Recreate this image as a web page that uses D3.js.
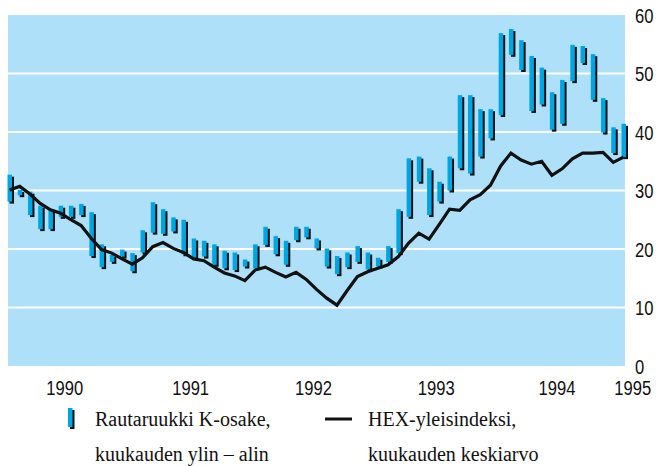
<!DOCTYPE html>
<html>
<head>
<meta charset="utf-8">
<title>Rautaruukki</title>
<script src="https://cdn.jsdelivr.net/npm/d3@7"></script>
<style>
    body { margin: 0; background: white; }
    .tick { font-family: "Liberation Sans", Arial, sans-serif; font-size: 21px; fill: #111; }
    .leg { font-family: "Liberation Serif", "Times New Roman", serif; font-size: 20px; fill: #111; }
</style>
</head>
<body>
<div id="chart"></div>
<script>
// Rautaruukki K-osake, kuukauden ylin / alin (61 kk)
var high = [32.7, 30.1, 29.8, 27.4, 26.7, 27.4, 27.4, 27.7, 26.3, 20.8,
            19.0, 19.9, 19.3, 23.2, 28.0, 26.8, 25.4, 25.0, 21.8, 21.4,
            20.8, 19.7, 19.4, 18.2, 20.8, 23.8, 22.2, 21.4, 23.8, 23.8,
            21.8, 20.1, 18.8, 19.4, 20.5, 19.4, 18.5, 20.5, 26.8, 35.5,
            35.8, 33.8, 31.5, 35.8, 46.3, 46.3, 43.9, 43.9, 56.9, 57.6,
            55.7, 53.0, 51.0, 46.8, 48.9, 54.9, 54.7, 53.3, 45.8, 40.8, 41.4];
var low = [28.1, 29.2, 25.8, 23.4, 23.4, 25.5, 25.5, 25.8, 18.8, 16.9,
           17.8, 18.7, 16.2, 19.4, 22.8, 22.6, 23.0, 19.1, 18.5, 18.7,
           17.3, 16.7, 16.4, 17.0, 16.7, 20.7, 19.1, 17.3, 21.5, 22.0,
           20.1, 17.0, 15.7, 16.9, 17.8, 16.5, 17.0, 17.8, 19.3, 25.5,
           31.5, 25.8, 28.1, 30.0, 33.8, 32.9, 35.8, 38.9, 42.9, 53.2,
           50.6, 43.6, 44.7, 40.4, 41.4, 48.7, 51.8, 45.5, 39.9, 36.4, 35.7];
// HEX-yleisindeksi, kuukauden keskiarvo
var hex = [30.1, 30.7, 29.4, 27.8, 26.7, 26.1, 25.0, 24.0, 21.8, 19.9,
           19.3, 18.3, 17.4, 18.5, 20.4, 21.1, 20.1, 19.4, 18.3, 18.0,
           16.9, 15.9, 15.4, 14.6, 16.4, 16.9, 16.0, 15.2, 16.0, 14.8,
           13.1, 11.6, 10.4, 12.9, 15.3, 16.1, 16.7, 17.3, 18.7, 21.0,
           22.7, 21.7, 24.2, 26.8, 26.6, 28.4, 29.3, 30.9, 34.2, 36.4,
           35.2, 34.5, 35.0, 32.6, 33.7, 35.4, 36.4, 36.4, 36.5, 34.8, 35.7];
var yearLabels = ["1990", "1991", "1992", "1993", "1994", "1995"];
var yearPos = [5.5, 17.8, 29.8, 41.8, 53.6, 61.0];   // kuukausi-indeksinä
var yTicks = [0, 10, 20, 30, 40, 50, 60];

var width = 658, height = 466;
var panel = {left: 8, right: 625, top: 15, bottom: 366};
var panelColor = "#aee0f9", barColor = "#00a5e4";
var squeeze = "scale(0.79,1)";  // kapea numerofontti

var svg = d3.select("#chart").append("svg")
    .attr("width", width).attr("height", height);

var x = d3.scaleLinear().domain([0, 60]).range([8, 622]);
var y = d3.scaleLinear().domain([0, 60]).range([panel.bottom, panel.top]);

svg.append("rect")
    .attr("x", panel.left).attr("y", panel.top)
    .attr("width", panel.right - panel.left).attr("height", panel.bottom - panel.top)
    .attr("fill", panelColor);

// gridlines
svg.append("g").selectAll("line")
    .data(yTicks.filter(function(d){ return d > 0 && d < 60; }))
    .enter().append("line")
    .attr("x1", panel.left).attr("x2", panel.right)
    .attr("y1", function(d){ return y(d); }).attr("y2", function(d){ return y(d); })
    .attr("stroke", "white").attr("stroke-width", 2);

// y labels on the right
var yAxis = d3.axisRight(y).tickValues(yTicks).tickSize(0).tickPadding(0);
svg.append("g")
    .attr("transform", "translate(635,0)")
    .call(yAxis)
    .call(function(g){ g.select(".domain").remove(); })
    .selectAll("text")
    .attr("class", "tick")
    .attr("dy", "0.34em")
    .attr("transform", squeeze);

// x labels
var xAxis = d3.axisBottom(x).tickValues(yearPos)
    .tickFormat(function(d, i){ return yearLabels[i]; })
    .tickSize(0).tickPadding(0);
svg.append("g")
    .attr("transform", "translate(0,380)")
    .call(xAxis)
    .call(function(g){ g.select(".domain").remove(); })
    .selectAll("text")
    .attr("class", "tick")
    .attr("dy", "0.72em")
    .attr("transform", squeeze);

// bars: black shadow + blue
var idx = d3.range(high.length);
var bars = svg.append("g");
bars.selectAll("rect.sh").data(idx).enter().append("rect")
    .attr("class", "sh")
    .attr("x", function(i){ return x(i) + 1.5; })
    .attr("y", function(i){ return y(high[i]) + 2; })
    .attr("width", 4.5)
    .attr("height", function(i){ return y(low[i]) - y(high[i]); })
    .attr("fill", "#111");
bars.selectAll("rect.bl").data(idx).enter().append("rect")
    .attr("class", "bl")
    .attr("x", function(i){ return x(i) - 0.5; })
    .attr("y", function(i){ return y(high[i]); })
    .attr("width", 4.5)
    .attr("height", function(i){ return y(low[i]) - y(high[i]); })
    .attr("fill", barColor);

// HEX line
var line = d3.line()
    .x(function(d, i){ return x(i) + 1.5; })
    .y(function(d){ return y(d); });
svg.append("path")
    .datum(hex)
    .attr("d", line)
    .attr("fill", "none")
    .attr("stroke", "#111")
    .attr("stroke-width", 3.2)
    .attr("stroke-linejoin", "miter");

// legend
var leg = svg.append("g");
leg.append("rect").attr("x", 70).attr("y", 410).attr("width", 4.5).attr("height", 19).attr("fill", "#111");
leg.append("rect").attr("x", 68).attr("y", 408).attr("width", 4.5).attr("height", 19).attr("fill", barColor);
leg.append("text").attr("class", "leg").attr("x", 95).attr("y", 426).text("Rautaruukki K-osake,");
leg.append("text").attr("class", "leg").attr("x", 95).attr("y", 461).text("kuukauden ylin – alin");
leg.append("line").attr("x1", 325).attr("x2", 352).attr("y1", 419).attr("y2", 419)
    .attr("stroke", "#111").attr("stroke-width", 3);
leg.append("text").attr("class", "leg").attr("x", 368).attr("y", 426).text("HEX-yleisindeksi,");
leg.append("text").attr("class", "leg").attr("x", 368).attr("y", 461).text("kuukauden keskiarvo");
</script>
</body>
</html>
